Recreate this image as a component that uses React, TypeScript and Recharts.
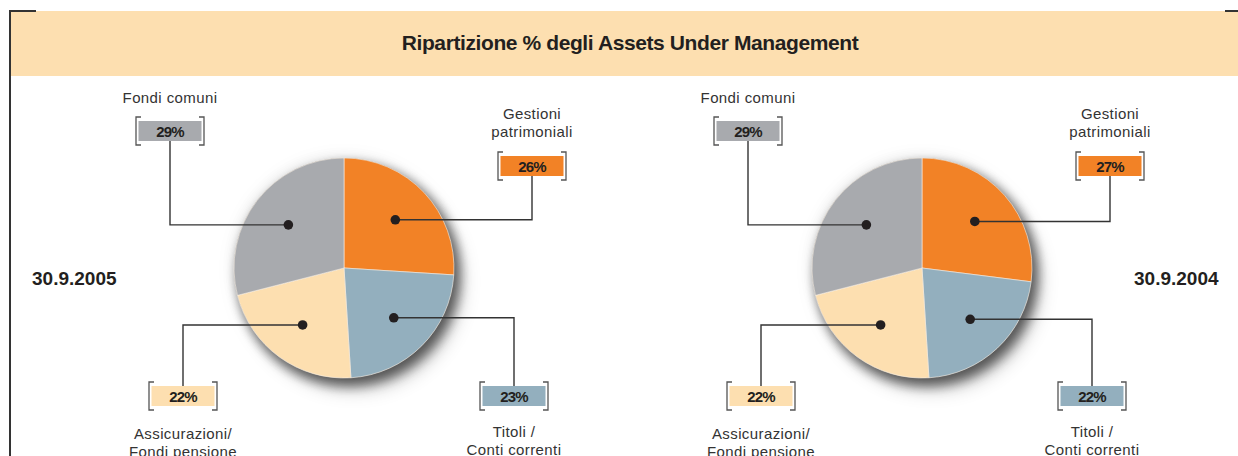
import React from 'react';
import { PieChart, Pie, Cell } from 'recharts';

// slice order: clockwise from 12 o'clock
const categories = ['Gestioni patrimoniali', 'Titoli / Conti correnti', 'Assicurazioni/ Fondi pensione', 'Fondi comuni'];
const captionLines = [['Gestioni', 'patrimoniali'], ['Titoli /', 'Conti correnti'], ['Assicurazioni/', 'Fondi pensione'], ['Fondi comuni']];
const share2005 = [26, 23, 22, 29];
const share2004 = [27, 22, 22, 29];
const periods = ['30.9.2005', '30.9.2004'];
const title = 'Ripartizione % degli Assets Under Management';

const sliceColors = ['#F28226', '#93AFBE', '#FDDFB0', '#A8AAAE'];
const INK = '#231F20';
const FONT = '"Liberation Sans", Arial, Helvetica, sans-serif';

// callout geometry, offsets from the pie centre
const callouts = [
  { elbowDx: 188, boxDy: -102, captionDy: [-47, -29] },
  { elbowDx: 170, boxDy: 128, captionDy: [41, 59] },
  { elbowDx: -161, boxDy: 128, captionDy: [43, 61] },
  { elbowDx: -174, boxDy: -137, captionDy: [-28] },
];

const RAD = Math.PI / 180;
const CX = 344;
const CY = 268;
const R = 110;
const NO_MARGIN = { top: 0, right: 0, bottom: 0, left: 0 };

function Callout(props: any) {
  const { cx, cy, midAngle, outerRadius, index, value } = props;
  const c = callouts[index];
  const dr = outerRadius * 0.64;
  const dx = cx + dr * Math.cos(-midAngle * RAD);
  const dy = cy + dr * Math.sin(-midAngle * RAD);
  const bx = cx + c.elbowDx;
  const by = cy + c.boxDy;
  const edge = c.boxDy < 0 ? by + 10 : by - 10;
  const bw = 34;
  const bh = 14;
  return (
    <g>
      <path d={`M${dx},${dy}H${bx}V${edge}`} stroke="#333" strokeWidth={1.4} fill="none" />
      <circle cx={dx} cy={dy} r={4.8} fill={INK} />
      <rect x={bx - 31.5} y={by - 10} width={63} height={20} fill={sliceColors[index]} />
      <path d={`M${bx - bw + 5},${by - bh}H${bx - bw}V${by + bh}H${bx - bw + 5}`} stroke="#555" strokeWidth={1.3} fill="none" />
      <path d={`M${bx + bw - 5},${by - bh}H${bx + bw}V${by + bh}H${bx + bw - 5}`} stroke="#555" strokeWidth={1.3} fill="none" />
      <text x={bx} y={by + 5.5} textAnchor="middle" fontFamily={FONT} fontWeight={700} fontSize={15} letterSpacing={-0.8} fill={INK}>
        {value}%
      </text>
      {captionLines[index].map((line, i) => (
        <text key={i} x={bx} y={by + c.captionDy[i]} textAnchor="middle" fontFamily={FONT} fontSize={15} letterSpacing={0.4} fill="#333">
          {line}
        </text>
      ))}
    </g>
  );
}

function AumPie({ values, left }: { values: number[]; left: number }) {
  const data = categories.map((name, i) => ({ name, value: values[i] }));
  const whole = [{ name: 'all', value: 100 }];
  return (
    <div style={{ position: 'absolute', left, top: 0 }}>
      <PieChart width={600} height={456} margin={NO_MARGIN}>
        <Pie
          data={whole}
          dataKey="value"
          cx={CX}
          cy={CY}
          outerRadius={R}
          startAngle={90}
          endAngle={-270}
          stroke="none"
          className="pie-shadow"
          isAnimationActive={false}
        >
          <Cell fill="#888" />
        </Pie>
        <Pie
          data={data}
          dataKey="value"
          cx={CX}
          cy={CY}
          outerRadius={R}
          startAngle={90}
          endAngle={-270}
          stroke="#f7efe4"
          strokeWidth={0.6}
          label={Callout}
          labelLine={false}
          isAnimationActive={false}
        >
          {data.map((d, i) => (
            <Cell key={d.name} fill={sliceColors[i]} />
          ))}
        </Pie>
      </PieChart>
    </div>
  );
}

export default function App() {
  return (
    <div style={{ position: 'relative', width: 1238, height: 456, overflow: 'hidden', background: '#fff', fontFamily: FONT }}>
      <style>{`body{margin:0} .pie-shadow{filter:drop-shadow(5px 7px 6px rgba(0,0,0,0.4)) drop-shadow(0 0 8px rgba(0,0,0,0.07));}`}</style>
      <div style={{ position: 'absolute', left: 10, top: 11, width: 1228, height: 65, background: '#FDDFB0' }} />
      <div style={{ position: 'absolute', left: 9, top: 10, width: 27, height: 1.5, background: '#333' }} />
      <div style={{ position: 'absolute', left: 9, top: 10, width: 1.5, height: 446, background: '#333' }} />
      <div style={{ position: 'absolute', left: 1225, top: 10, width: 13, height: 1.5, background: '#333' }} />
      <div
        style={{
          position: 'absolute',
          left: 0,
          width: 1260,
          top: 31,
          textAlign: 'center',
          fontWeight: 700,
          fontSize: 21,
          letterSpacing: -0.4,
          color: INK,
          lineHeight: '24px',
        }}
      >
        {title}
      </div>
      <AumPie values={share2005} left={0} />
      <AumPie values={share2004} left={577.5} />
      <div style={{ position: 'absolute', left: 32, top: 267, fontWeight: 700, fontSize: 19, color: INK, lineHeight: '24px' }}>
        {periods[0]}
      </div>
      <div style={{ position: 'absolute', left: 1134, top: 267, fontWeight: 700, fontSize: 19, color: INK, lineHeight: '24px' }}>
        {periods[1]}
      </div>
    </div>
  );
}
